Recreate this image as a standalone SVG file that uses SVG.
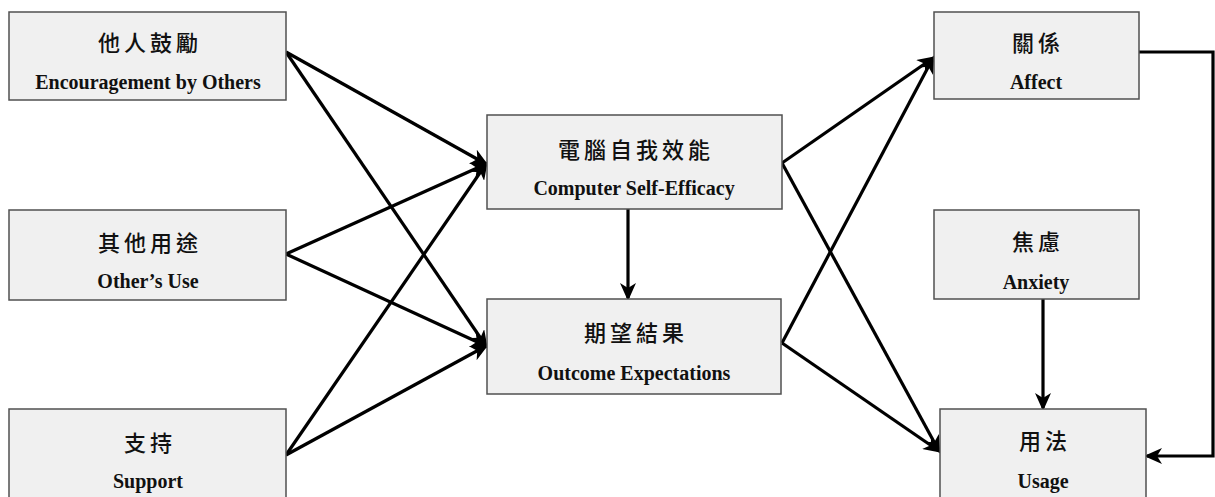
<svg xmlns="http://www.w3.org/2000/svg" width="1215" height="497" viewBox="0 0 1215 497">
  <style>
    .box { fill: #f0f0f0; stroke: #505050; stroke-width: 1.5; }
    .zh { font-family: "Noto Sans CJK TC", "Noto Sans CJK SC", sans-serif; font-size: 22px; font-weight: 500; fill: #111; text-anchor: middle; letter-spacing: 4px; }
    .en { font-family: "Liberation Serif", "Times New Roman", serif; font-size: 20px; font-weight: bold; fill: #111; text-anchor: middle; }
    .link { fill: none; stroke: #000; stroke-width: 3.2; marker-end: url(#arrow); }
  </style>
  <defs>
    <marker id="arrow" markerWidth="18" markerHeight="16" refX="15" refY="8" orient="auto" markerUnits="userSpaceOnUse">
      <path d="M0,0 L18,8 L0,16 L5,8 z" fill="#000"/>
    </marker>
  </defs>
  <rect width="1215" height="497" fill="#fff"/>

  <g id="connectors">
    <!-- inputs to self-efficacy and outcome expectations -->
    <line class="link" x1="286" y1="52" x2="486" y2="164"/>
    <line class="link" x1="286" y1="52" x2="486" y2="346"/>
    <line class="link" x1="286" y1="254" x2="486" y2="164"/>
    <line class="link" x1="286" y1="254" x2="486" y2="346"/>
    <line class="link" x1="286" y1="455" x2="486" y2="164"/>
    <line class="link" x1="286" y1="455" x2="486" y2="346"/>
    <!-- self-efficacy to outcome expectations -->
    <line class="link" x1="628" y1="209" x2="628" y2="298"/>
    <!-- to affect and usage -->
    <line class="link" x1="782" y1="163" x2="933" y2="58"/>
    <line class="link" x1="782" y1="343" x2="933" y2="58"/>
    <line class="link" x1="782" y1="163" x2="939" y2="451"/>
    <line class="link" x1="782" y1="343" x2="939" y2="451"/>
    <!-- anxiety to usage -->
    <line class="link" x1="1043" y1="299" x2="1043" y2="408"/>
    <!-- affect loop back to usage -->
    <polyline class="link" points="1139,52 1213,52 1213,456 1147,456"/>
  </g>

  <g id="node-encouragement">
    <rect class="box" x="9" y="12" width="277" height="88"/>
    <text class="zh" x="150" y="51">他人鼓勵</text>
    <text class="en" x="148" y="89">Encouragement by Others</text>
  </g>
  <g id="node-others-use">
    <rect class="box" x="9" y="210" width="277" height="90"/>
    <text class="zh" x="150" y="251">其他用途</text>
    <text class="en" x="148" y="288">Other’s Use</text>
  </g>
  <g id="node-support">
    <rect class="box" x="9" y="409" width="277" height="100"/>
    <text class="zh" x="150" y="451">支持</text>
    <text class="en" x="148" y="488">Support</text>
  </g>
  <g id="node-self-efficacy">
    <rect class="box" x="487" y="115" width="295" height="94"/>
    <text class="zh" x="636" y="158">電腦自我效能</text>
    <text class="en" x="634" y="195">Computer Self-Efficacy</text>
  </g>
  <g id="node-outcome">
    <rect class="box" x="487" y="299" width="294" height="95"/>
    <text class="zh" x="636" y="341">期望結果</text>
    <text class="en" x="634" y="380">Outcome Expectations</text>
  </g>
  <g id="node-affect">
    <rect class="box" x="934" y="12" width="205" height="87"/>
    <text class="zh" x="1038" y="51">關係</text>
    <text class="en" x="1036" y="89">Affect</text>
  </g>
  <g id="node-anxiety">
    <rect class="box" x="934" y="210" width="205" height="89"/>
    <text class="zh" x="1038" y="250">焦慮</text>
    <text class="en" x="1036" y="289">Anxiety</text>
  </g>
  <g id="node-usage">
    <rect class="box" x="940" y="409" width="206" height="100"/>
    <text class="zh" x="1045" y="449">用法</text>
    <text class="en" x="1043" y="488">Usage</text>
  </g>
</svg>
